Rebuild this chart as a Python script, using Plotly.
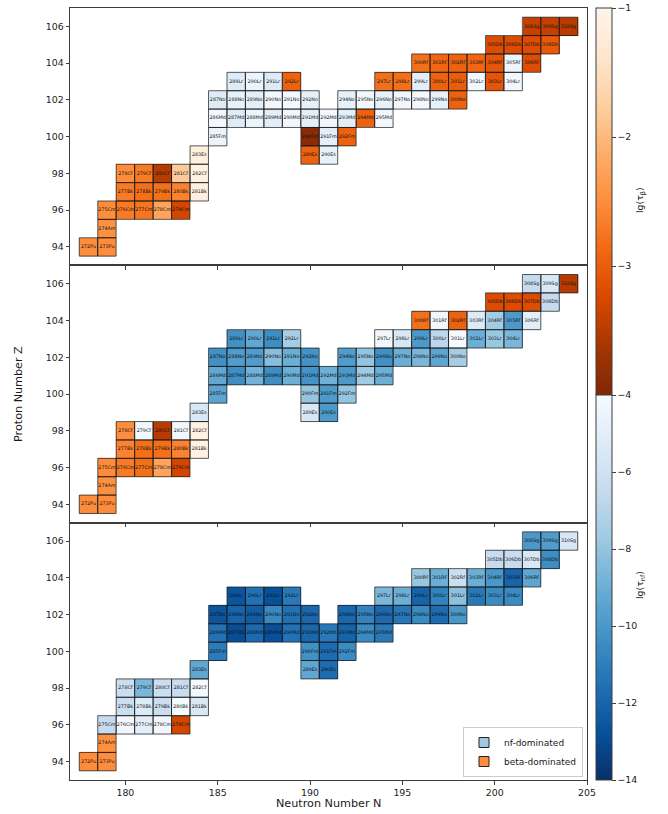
import plotly.graph_objects as go
from plotly.subplots import make_subplots

# ---------------- data ----------------
SYMBOLS = {94: "Pu", 95: "Am", 96: "Cm", 97: "Bk", 98: "Cf", 99: "Es", 100: "Fm",
           101: "Md", 102: "No", 103: "Lr", 104: "Rf", 105: "Db", 106: "Sg"}

Z_LIST = ([94, 94] + [95] + [96] * 5 + [97] * 5 + [98] * 5 + [99] * 3 + [100] * 4
          + [101] * 10 + [102] * 13 + [103] * 12 + [104] * 7 + [105] * 4 + [106] * 3)

A_LIST = [272, 273,
          274,
          275, 276, 277, 278, 279,
          277, 278, 279, 280, 281,
          278, 279, 280, 281, 282,
          283, 289, 290,
          285, 290, 291, 292,
          286, 287, 288, 289, 290, 291, 292, 293, 294, 295,
          287, 288, 289, 290, 291, 292, 294, 295, 296, 297, 298, 299, 300,
          289, 290, 291, 292, 297, 298, 299, 300, 301, 302, 303, 304,
          300, 301, 302, 303, 304, 305, 306,
          305, 306, 307, 308,
          308, 309, 310]

# lg(tau) of the dominating channel; values above -4 are beta-dominated (lg tau_beta),
# values below -4 are nf-dominated (lg tau_nf)
LG_TAU_TOP = [-2.5, -2.5,
              -2.45,
              -2.5, -2.7, -2.75, -2.25, -3.3,
              -2.7, -2.8, -2.8, -2.6, -1.15,
              -2.5, -2.7, -3.5, -1.8, -1.1,
              -1.15, -2.95, -4.8,
              -4.6, -3.9, -5.0, -2.95,
              -4.2, -5.2, -4.5, -5.0, -4.4, -5.0, -4.3, -5.0, -2.95, -4.3,
              -5.2, -4.8, -5.0, -4.2, -4.2, -4.8, -4.8, -4.2, -4.8, -4.3, -4.2, -4.8, -2.95,
              -5.3, -4.6, -5.3, -2.95, -2.8, -2.8, -5.0, -2.95, -3.0, -4.2, -3.1, -4.2,
              -2.8, -2.9, -2.95, -2.9, -3.1, -4.5, -3.2,
              -3.2, -3.2, -3.2, -3.05,
              -3.4, -3.4, -3.5]

LG_TAU_MID = [-2.5, -2.5,
              -2.45,
              -2.5, -2.7, -2.8, -2.25, -3.3,
              -2.6, -2.8, -2.8, -2.6, -1.1,
              -2.5, -4.3, -3.5, -4.3, -1.1,
              -5.5, -5.6, -9.9,
              -9.5, -8.0, -9.9, -8.0,
              -9.3, -10.4, -8.8, -10.4, -9.0, -10.2, -8.9, -9.9, -7.7, -9.0,
              -10.3, -9.8, -9.8, -8.3, -9.0, -10.2, -9.8, -8.0, -10.3, -9.0, -8.6, -9.4, -7.5,
              -10.3, -9.3, -10.4, -7.5, -4.3, -5.6, -9.9, -6.8, -4.1, -9.0, -7.9, -8.6,
              -2.8, -4.3, -2.95, -5.3, -7.6, -9.9, -5.0,
              -3.2, -3.2, -3.2, -6.5,
              -6.5, -5.5, -3.5]

LG_TAU_BOT = [-2.5, -2.5,
              -2.45,
              -6.5, -4.3, -4.9, -4.3, -3.3,
              -6.3, -5.3, -6.3, -4.1, -5.5,
              -6.3, -8.6, -6.3, -6.4, -4.1,
              -9.3, -9.3, -11.7,
              -11.1, -10.3, -11.7, -10.5,
              -11.5, -12.9, -11.8, -12.8, -11.5, -11.9, -11.2, -12.0, -10.5, -11.2,
              -12.6, -12.0, -12.3, -10.6, -11.5, -11.9, -11.9, -10.8, -11.8, -11.3, -10.5, -11.7, -10.0,
              -12.6, -11.5, -12.8, -11.2, -8.6, -9.0, -12.0, -10.8, -8.2, -11.2, -10.5, -10.5,
              -7.9, -9.0, -6.2, -9.0, -10.0, -12.0, -9.4,
              -6.4, -6.4, -5.6, -10.4,
              -10.0, -9.8, -5.6]

PANELS = [LG_TAU_TOP, LG_TAU_MID, LG_TAU_BOT]

N_TICKS = [180, 185, 190, 195, 200, 205]
Z_TICKS = [94, 96, 98, 100, 102, 104, 106]
BETA_TICKS = [-4, -3, -2, -1]
NF_TICKS = [-14, -12, -10, -8, -6]
LEGEND_LABELS = ["nf-dominated", "beta-dominated"]

# ---------------- figure ----------------
W, H = 668, 814
ML, MR, MT, MB = 70, 81, 8, 34
X_RANGE = [177.0, 205.0]
Y_RANGE = [93.0, 107.0]
FONT = "DejaVu Sans"
TXT = "#1a1a1a"
AX = "#3c3c3c"

N_LIST = [a - z for a, z in zip(A_LIST, Z_LIST)]
LABELS = [f"{a}{SYMBOLS[z]}" for a, z in zip(A_LIST, Z_LIST)]
n_axis = list(range(min(N_LIST), max(N_LIST) + 1))
z_axis = list(range(min(Z_LIST), max(Z_LIST) + 1))

plot_w = W - ML - MR
plot_h = H - MT - MB
cell_px = min(plot_w / (X_RANGE[1] - X_RANGE[0]), plot_h / 3 / (Y_RANGE[1] - Y_RANGE[0]))

fig = make_subplots(rows=3, cols=1, shared_xaxes=True, vertical_spacing=0)

for row, vals in enumerate(PANELS, start=1):
    zb = [[None] * len(n_axis) for _ in z_axis]
    zn = [[None] * len(n_axis) for _ in z_axis]
    for n, z, v in zip(N_LIST, Z_LIST, vals):
        i, j = z_axis.index(z), n_axis.index(n)
        if v > -4:
            zb[i][j] = v
        else:
            zn[i][j] = v
    fig.add_trace(go.Heatmap(x=n_axis, y=z_axis, z=zb, coloraxis="coloraxis",
                             hoverongaps=False, showlegend=False), row=row, col=1)
    fig.add_trace(go.Heatmap(x=n_axis, y=z_axis, z=zn, coloraxis="coloraxis2",
                             hoverongaps=False, showlegend=False), row=row, col=1)
    fig.add_trace(go.Scatter(
        x=N_LIST, y=Z_LIST, mode="markers+text", text=LABELS,
        textposition="middle center",
        textfont=dict(family=FONT, size=4.8, color="#111"),
        marker=dict(symbol="square-open", size=cell_px, color="rgba(25,25,25,0.72)",
                    line=dict(width=1)),
        hoverinfo="skip", showlegend=False), row=row, col=1)

# legend entries
for name, col in zip(LEGEND_LABELS, ["#9ecae1", "#fd8d3c"]):
    fig.add_trace(go.Scatter(x=[None], y=[None], mode="markers", name=name,
                             marker=dict(symbol="square", size=10, color=col,
                                         line=dict(color="#222", width=1))),
                  row=3, col=1)

for r in range(1, 4):
    fig.update_yaxes(row=r, col=1, range=Y_RANGE, tickvals=Z_TICKS, ticks="outside",
                     ticklen=3.5, tickwidth=1, tickcolor=AX, showline=True, linecolor=AX,
                     linewidth=1, mirror=True, showgrid=False, zeroline=False,
                     tickfont=dict(family=FONT, size=9.4, color=TXT))
    fig.update_xaxes(row=r, col=1, range=X_RANGE, tickvals=N_TICKS, ticks="outside",
                     ticklen=3.5, tickwidth=1, tickcolor=AX, showline=True, linecolor=AX,
                     linewidth=1, mirror=True, showgrid=False, zeroline=False,
                     tickfont=dict(family=FONT, size=9.4, color=TXT))

cb_x = (596 - ML) / plot_w
fig.update_layout(
    width=W, height=H,
    margin=dict(l=ML, r=MR, t=MT, b=MB, pad=0),
    paper_bgcolor="white", plot_bgcolor="white",
    font=dict(family=FONT, color=TXT),
    coloraxis=dict(
        cmin=-4, cmax=-1, colorscale="Oranges", reversescale=True,
        colorbar=dict(x=cb_x, xanchor="left", xpad=0, y=1, yanchor="top", ypad=0,
                      len=0.5013, lenmode="fraction", thickness=16,
                      outlinecolor=AX, outlinewidth=1, tickvals=BETA_TICKS,
                      ticks="outside", ticklen=3.5, tickcolor=AX,
                      tickfont=dict(family=FONT, size=9.4, color=TXT))),
    coloraxis2=dict(
        cmin=-14, cmax=-4, colorscale="Blues", reversescale=True,
        colorbar=dict(x=cb_x, xanchor="left", xpad=0, y=0, yanchor="bottom", ypad=0,
                      len=0.4987, lenmode="fraction", thickness=16,
                      outlinecolor=AX, outlinewidth=1, tickvals=NF_TICKS,
                      ticks="outside", ticklen=3.5, tickcolor=AX,
                      tickfont=dict(family=FONT, size=9.4, color=TXT))),
    legend=dict(x=(583 - ML) / plot_w, y=(H - MB - 777) / plot_h, xanchor="right",
                yanchor="bottom", bgcolor="white", bordercolor="#cccccc", borderwidth=1,
                font=dict(family=FONT, size=9, color=TXT), tracegroupgap=0,
                itemsizing="trace", itemwidth=30),
    annotations=[
        dict(text="Proton Number Z", x=(18 - ML) / plot_w, y=0.5, xref="paper", yref="paper",
             textangle=-90, showarrow=False, font=dict(family=FONT, size=11.2, color=TXT),
             xanchor="center", yanchor="middle"),
        dict(text="Neutron Number N", x=0.5, y=-(803 - (H - MB)) / plot_h, xref="paper",
             yref="paper", showarrow=False, font=dict(family=FONT, size=11.2, color=TXT),
             xanchor="center", yanchor="middle"),
        dict(text="lg(τ<sub>β</sub>)", x=(640 - ML) / plot_w, y=(H - MB - 200) / plot_h,
             xref="paper", yref="paper", textangle=-90, showarrow=False,
             font=dict(family=FONT, size=9.4, color=TXT), xanchor="center", yanchor="middle"),
        dict(text="lg(τ<sub>nf</sub>)", x=(640 - ML) / plot_w, y=(H - MB - 585) / plot_h,
             xref="paper", yref="paper", textangle=-90, showarrow=False,
             font=dict(family=FONT, size=9.4, color=TXT), xanchor="center", yanchor="middle"),
    ],
)

fig.write_html("out.html")
